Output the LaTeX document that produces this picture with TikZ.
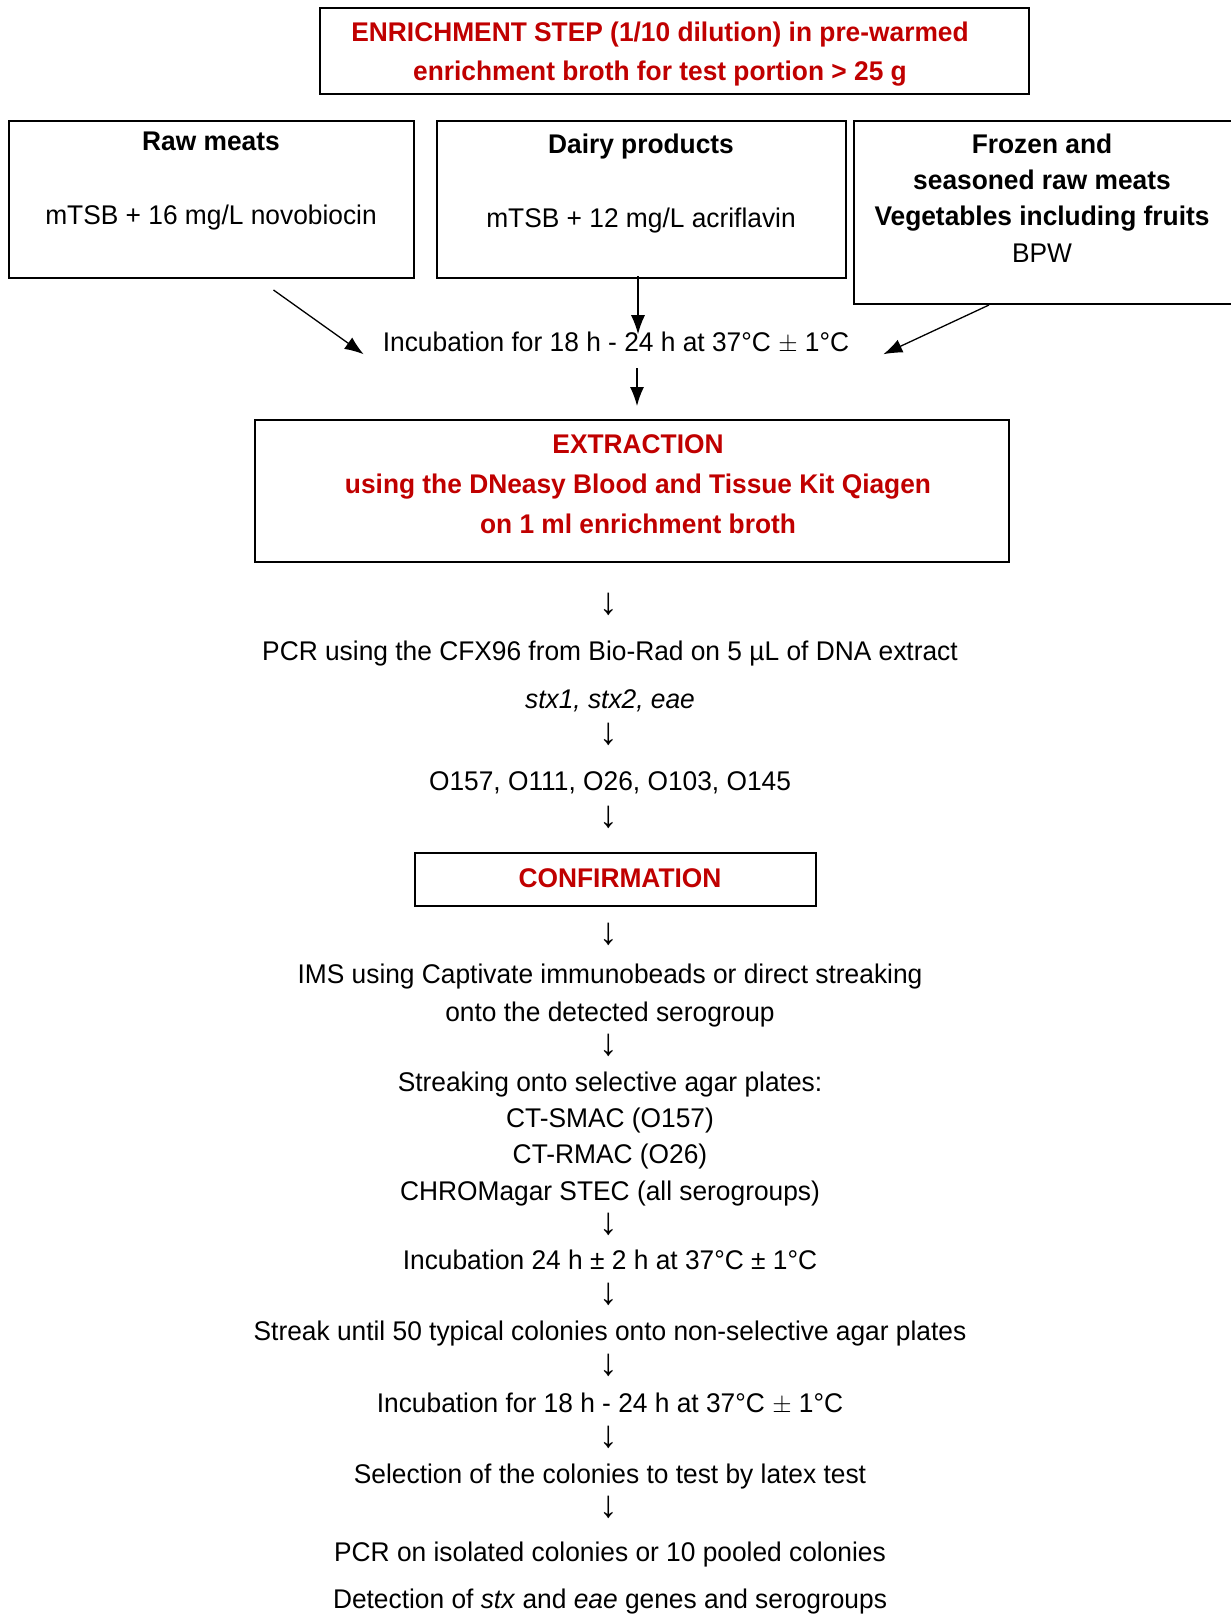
\documentclass[tikz,border=0pt]{standalone}
\usepackage{fontspec}
\setmainfont[FakeStretch=0.975]{Liberation Sans}
\usetikzlibrary{arrows.meta}
\definecolor{stepred}{RGB}{192,0,0}
\tikzset{
  box/.style={draw, line width=2pt, inner sep=0pt},
  txt/.style={font=\fontsize{27}{37}\selectfont, align=center, inner sep=0pt, anchor=base},
  redtxt/.style={txt, text=stepred, font=\fontsize{27}{39.5}\selectfont\bfseries},
  downtxt/.style={txt, font=\fontsize{38}{38}\selectfont},
  arr/.style={-{Latex[length=19pt,width=14pt]}, line width=1.3pt},
}
\begin{document}
\begin{tikzpicture}[x=1pt, y=-1pt]
	\useasboundingbox (0,0) rectangle (1231,1615);
	
	% Enrichment (multi-line nodes sit on their last baseline)
	\node[box, minimum width=709, minimum height=86] (enrich) at (674.5,51) {};
	\node[redtxt] (enrichtxt) at (660,80.5) {ENRICHMENT STEP (1/10 dilution) in pre-warmed\\enrichment broth for test portion > 25 g};
	
	% Matrices
	\node[box, minimum width=405, minimum height=157] (raw) at (211.5,199.5) {};
	\node[box, minimum width=409, minimum height=157] (dairy) at (641.5,199.5) {};
	\node[box, minimum width=386, minimum height=183] (frozen) at (1047,212.5) {};
	\node[txt] (rawtxt) at (211,224) {\textbf{Raw meats}\\[37pt]mTSB + 16 mg/L novobiocin};
	\node[txt] (dairytxt) at (641,227) {\textbf{Dairy products}\\[37pt]mTSB + 12 mg/L acriflavin};
	\node[txt, font=\fontsize{27}{36.3}\selectfont] (frozentxt) at (1042,262) {\textbf{Frozen and}\\\textbf{seasoned raw meats}\\\textbf{Vegetables including fruits}\\BPW};
	
	% Incubation and extraction
	\node[txt] (inc1) at (616,351) {Incubation for 18 h - 24 h at 37°C $\pm$ 1°C};
	\draw[arr] ([xshift=62pt,yshift=-11pt]raw.south) -- ([xshift=-19pt,yshift=-12pt]inc1.west);
	\draw[arr] ([xshift=-3.5pt,yshift=3pt]dairy.south) -- ([xshift=-3.5pt,yshift=-3pt]dairy.south |- inc1.north);
	\draw[arr] ([xshift=-58pt]frozen.south) -- ([xshift=34pt,yshift=-12pt]inc1.east);
	
	\node[box, minimum width=754, minimum height=142] (extract) at (632,491) {};
	\node[redtxt, font=\fontsize{27}{40}\selectfont\bfseries] (extracttxt) at (638,533) {EXTRACTION\\using the DNeasy Blood and Tissue Kit Qiagen\\on 1 ml enrichment broth};
	\draw[arr] ([xshift=21pt,yshift=-15pt]inc1.south) -- ([xshift=5pt,yshift=13pt]extract.north);
	
	% Detection
	\node[txt] (pcr) at (610,660) {PCR using the CFX96 from Bio-Rad on 5 µL of DNA extract};
	\node[txt] (genes) at (610,708) {\itshape stx1, stx2, eae};
	\node[txt] (sero) at (610,790) {O157, O111, O26, O103, O145};
	
	% Confirmation
	\node[box, minimum width=401, minimum height=53] (confirm) at (615.5,879.5) {};
	\node[redtxt] (confirmtxt) at (620,887) {CONFIRMATION};
	\node[txt, font=\fontsize{27}{38}\selectfont] (ims) at (610,1021) {IMS using Captivate immunobeads or direct streaking\\onto the detected serogroup};
	\node[txt, font=\fontsize{27}{36.3}\selectfont] (plates) at (610,1200) {Streaking onto selective agar plates:\\CT-SMAC (O157)\\CT-RMAC (O26)\\CHROMagar STEC (all serogroups)};
	\node[txt] (inc2) at (610,1269) {Incubation 24 h ± 2 h at 37°C ± 1°C};
	\node[txt] (streak) at (610,1340) {Streak until 50 typical colonies onto non-selective agar plates};
	\node[txt] (inc3) at (610,1412) {Incubation for 18 h - 24 h at 37°C $\pm$ 1°C};
	\node[txt] (select) at (610,1483) {Selection of the colonies to test by latex test};
	\node[txt] (pcrcol) at (610,1561) {PCR on isolated colonies or 10 pooled colonies};
	\node[txt] (detect) at (610,1608) {Detection of \textit{stx} and \textit{eae} genes and serogroups};
	
	% Down arrows
	\foreach \y [count=\i] in {614,744,827,944,1055,1234,1304,1375,1447,1517}
	\node[downtxt] (down\i) at (609,\y) {↓};
\end{tikzpicture}
\end{document}
